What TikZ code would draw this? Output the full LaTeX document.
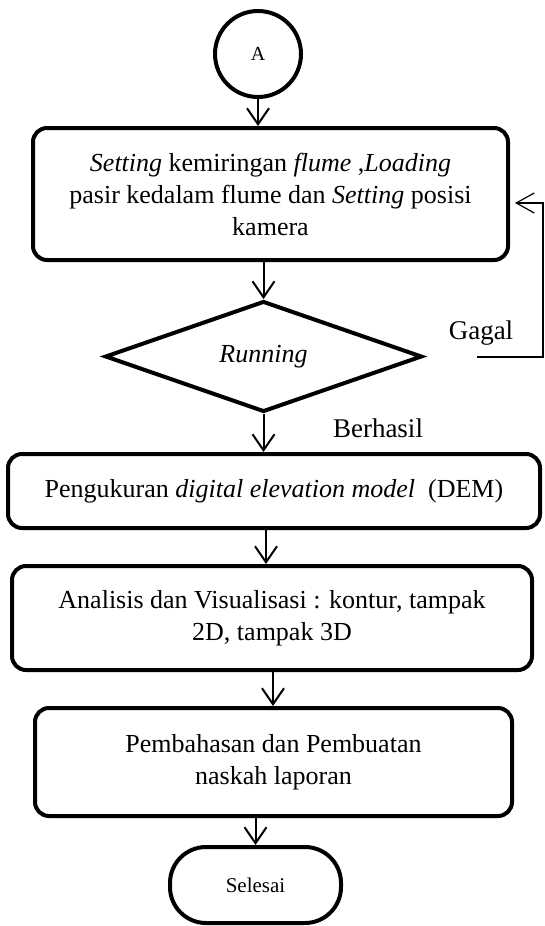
\documentclass[tikz,border=0pt]{standalone}
\usepackage{fontspec}
\setmainfont{Liberation Serif}
\usetikzlibrary{arrows.meta,shapes.geometric}

\begin{document}
\begin{tikzpicture}[x=1pt,y=-1pt,
    box/.style={draw,line width=4pt,rounded corners=14pt,align=center,inner sep=0pt,
      font=\fontsize{26}{32}\selectfont},
    arr/.style={line width=2pt,-{Straight Barb[length=16pt,width=22pt,line width=2pt]}},
    lbl/.style={font=\fontsize{27}{30}\selectfont}]
    \useasboundingbox (0,0) rectangle (544,926);

    % Start and end
    \node[draw,circle,line width=4pt,minimum size=86pt,inner sep=0pt,
      font=\fontsize{20}{22}\selectfont] (start) at (258,54) {A};
    \node[draw,line width=4pt,rounded corners=36pt,minimum width=171pt,minimum height=76pt,
      inner sep=0pt,font=\fontsize{21}{22}\selectfont] (fin) at (255.5,885) {Selesai};

    % Process boxes
    \node[box,minimum width=475pt,minimum height=132pt] (setting) at (270.5,194)
      {\textit{Setting} kemiringan \textit{flume} ,\textit{Loading}\\
       pasir kedalam flume dan \textit{Setting} posisi\\ kamera};
    \node[draw,diamond,line width=4pt,minimum width=317pt,minimum height=107pt,inner sep=0pt,
      font=\fontsize{26}{30}\selectfont] (run) at (263.5,356.5) {\textit{Running}};
    \node[box,minimum width=532pt,minimum height=74pt] (dem) at (274,491)
      {Pengukuran \textit{digital elevation model}\ \ (DEM)};
    \node[box,minimum width=520pt,minimum height=104pt] (vis) at (272,618)
      {Analisis dan Visualisasi : kontur, tampak\\ 2D, tampak 3D};
    \node[box,minimum width=477pt,minimum height=108pt] (lap) at (273.5,762)
      {Pembahasan dan Pembuatan\\ naskah laporan};

    % Labels
    \node[lbl] (ok) at (378,428) {Berhasil};
    \node[lbl] (fail) at (481,333) {Gagal};

    % Flow arrows
    \draw[arr] (start.south) -- (start.south |- setting.north);
    \draw[arr] (run.north |- setting.south) -- (run.north);
    \draw[arr] (run.south) -- (run.south |- dem.north);
    \draw[arr] ([xshift=-8pt]dem.south) -- ([xshift=-8pt]dem.south |- vis.north);
    \draw[arr] ([xshift=1pt]vis.south) -- ([xshift=1pt]vis.south |- lap.north);
    \draw[arr] (fin.north |- lap.south) -- (fin.north);

    % Loop back when it fails
    \coordinate (loop-start) at (477,357);
    \coordinate (loop-top) at (543,203);
    \coordinate (loop-end) at (515,203);
    \draw[line width=1.2pt,-{Straight Barb[length=18pt,width=20pt,line width=1.2pt]}]
      (loop-start) -| (loop-top) -- (loop-end);
  \end{tikzpicture}
\end{document}
